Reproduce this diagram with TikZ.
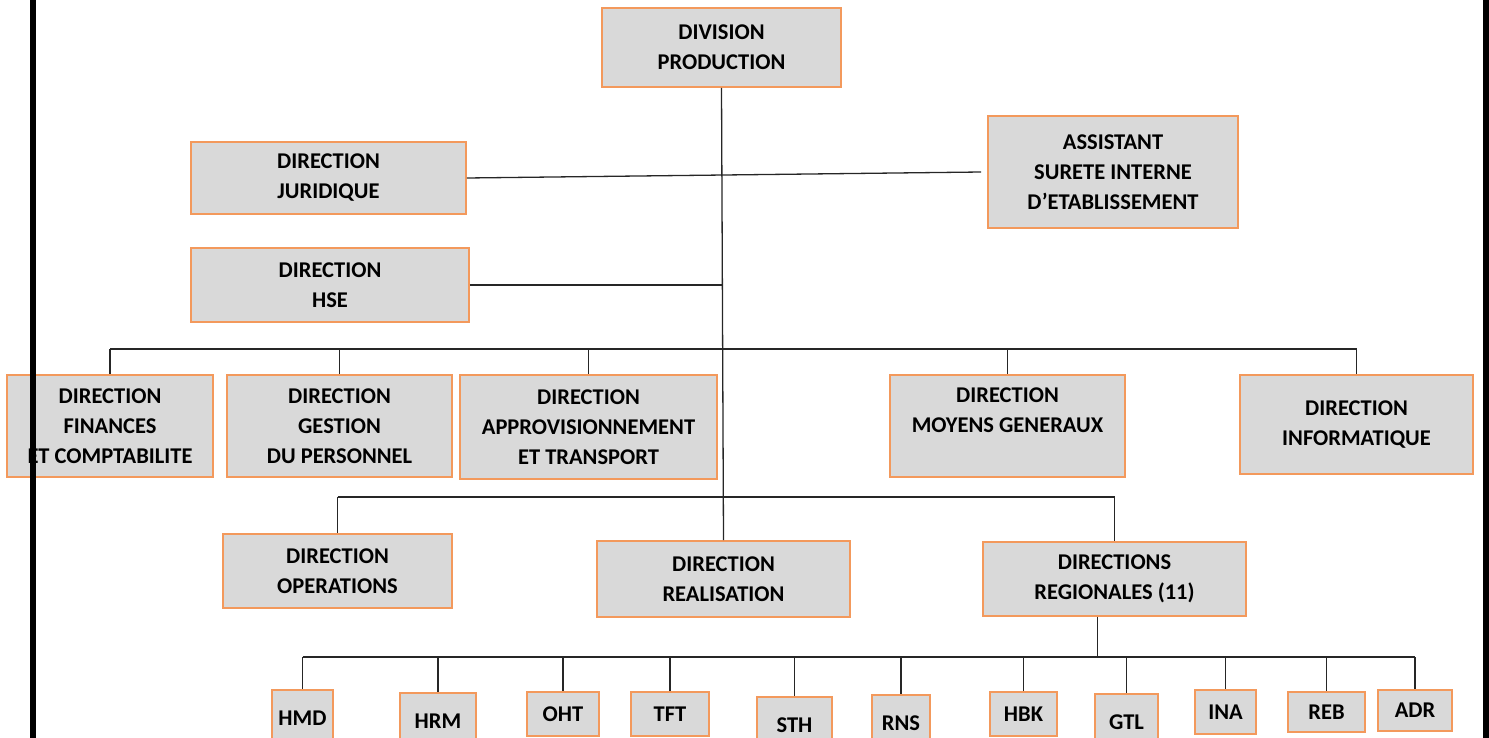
\documentclass[tikz,border=0pt]{standalone}
\usepackage{fontspec}
\setmainfont{Carlito}
\usepackage{xcolor}
\usepackage{tikz}
\usetikzlibrary{positioning}
\definecolor{boxorange}{RGB}{243,153,92}
\definecolor{boxgray}{RGB}{217,217,217}

\tikzset{
  unit/.style={draw=boxorange, fill=boxgray, line width=1.6pt, align=center,
    inner sep=0pt, font=\fontsize{22.5}{30}\selectfont\bfseries},
  link/.style={line width=1.3pt, draw=black!85},
}

\begin{document}
\begin{tikzpicture}[x=1pt,y=-1pt]
            \useasboundingbox (0,0) rectangle (1489,738);
            \clip (0,0) rectangle (1489,738);

            % Sommet
            \node[unit, minimum width=239pt, minimum height=79pt] (prod) at (721.5,47.5) {DIVISION\\PRODUCTION};

            % Rattachements directs
            \node[unit, minimum width=275pt, minimum height=72pt] (jur) at (328.5,178) {DIRECTION\\JURIDIQUE};
            \node[unit, minimum width=250pt, minimum height=112pt] (asst) at (1113,172) {ASSISTANT\\SURETE INTERNE\\D’ETABLISSEMENT};
            \node[unit, minimum width=278pt, minimum height=74pt] (hse) at (330,285) {DIRECTION\\HSE};

            % Directions fonctionnelles
            \node[unit, minimum width=206pt, minimum height=102pt] (fin) at (110,426) {DIRECTION\\FINANCES\\ET COMPTABILITE};
            \node[unit, minimum width=225pt, minimum height=102pt] (gest) at (339.5,426) {DIRECTION\\GESTION\\DU PERSONNEL};
            \node[unit, minimum width=257pt, minimum height=104pt] (appro) at (588.5,427) {DIRECTION\\APPROVISIONNEMENT\\ET TRANSPORT};
            \node[unit, minimum width=235pt, minimum height=102pt, text depth=31pt] (moy) at (1007.5,426) {DIRECTION\\MOYENS GENERAUX};
            \node[unit, minimum width=233pt, minimum height=99pt] (info) at (1356.5,424.5) {DIRECTION\\INFORMATIQUE};

            % Directions operationnelles
            \node[unit, minimum width=229pt, minimum height=74pt] (oper) at (337.5,571) {DIRECTION\\OPERATIONS};
            \node[unit, minimum width=253pt, minimum height=76pt] (real) at (723.5,579) {DIRECTION\\REALISATION};
            \node[unit, minimum width=263pt, minimum height=74pt] (reg) at (1114.5,579) {DIRECTIONS\\REGIONALES (11)};

            % Directions regionales
            \node[unit, minimum width=61pt, minimum height=56pt] (hmd) at (302.5,718) {HMD};
            \node[unit, minimum width=76pt, minimum height=56pt] (hrm) at (438,721) {HRM};
            \node[unit, minimum width=72pt, minimum height=44pt] (oht) at (563,714) {OHT};
            \node[unit, minimum width=78pt, minimum height=44pt] (tft) at (670,714) {TFT};
            \node[unit, minimum width=75pt, minimum height=56pt] (sth) at (794.5,725) {STH};
            \node[unit, minimum width=58pt, minimum height=56pt] (rns) at (901,723) {RNS};
            \node[unit, minimum width=67pt, minimum height=44pt] (hbk) at (1023.5,714) {HBK};
            \node[unit, minimum width=63pt, minimum height=56pt] (gtl) at (1126.5,722) {GTL};
            \node[unit, minimum width=61pt, minimum height=44pt] (ina) at (1225.5,712) {INA};
            \node[unit, minimum width=77pt, minimum height=40pt] (reb) at (1326.5,712) {REB};
            \node[unit, minimum width=74pt, minimum height=41pt] (adr) at (1415,710.5) {ADR};

            % Tronc principal
            \draw[link] (prod.south) -- (real.north);
            \draw[link] (jur.east) -- ([xshift=-6pt]asst.west);
            \draw[link] (hse.east) -- (hse.east -| prod.south);

            % Barre des directions fonctionnelles
            \coordinate (busa) at (0,349);
            \draw[link] (fin.north |- busa) -- (info.north |- busa);
            \foreach \d in {fin,gest,appro,moy,info}
                \draw[link] (\d.north |- busa) -- (\d.north);

            % Barre des directions operationnelles
            \coordinate (busb) at (0,497);
            \draw[link] (oper.north |- busb) -- (reg.north |- busb);
            \foreach \d in {oper,reg}
                \draw[link] (\d.north |- busb) -- (\d.north);

            % Barre des directions regionales
            \coordinate (busc) at (0,657);
            \draw[link] ([xshift=-17pt]reg.south) -- ([xshift=-17pt]reg.south |- busc);
            \draw[link] (hmd.north |- busc) -- (adr.north |- busc);
            \foreach \d in {hmd,hrm,oht,tft,sth,rns,hbk,gtl,ina,reb,adr}
                \draw[link] (\d.north |- busc) -- (\d.north);

            % Bords de page
            \fill[black] (30,0) rectangle (36,738);
            \fill[black] (1483,0) rectangle (1489,738);
        \end{tikzpicture}
\end{document}
